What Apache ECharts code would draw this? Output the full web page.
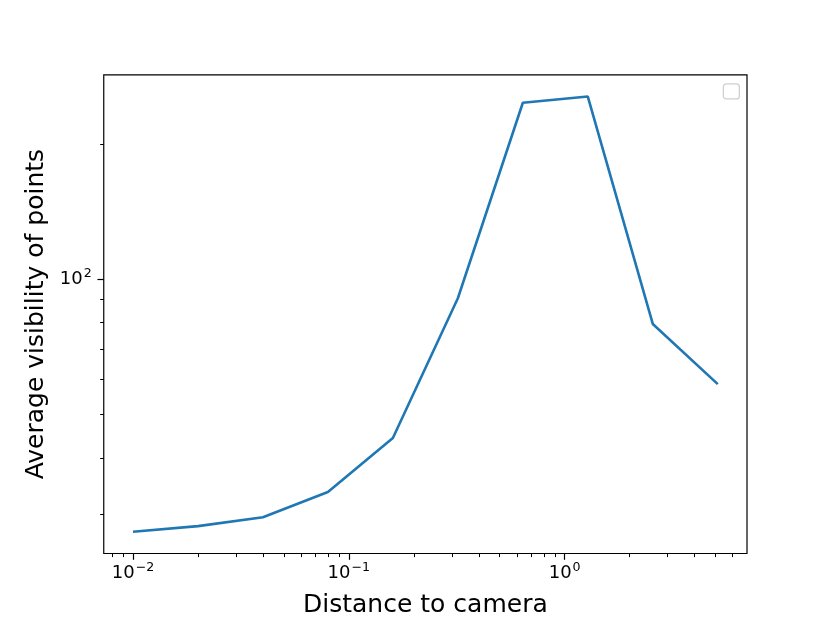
<!DOCTYPE html>
<html lang="en">
<head>
    <meta charset="UTF-8">
    <title>Average visibility of points</title>
    <script type="text/javascript" src="https://cdn.jsdelivr.net/npm/echarts@6/dist/echarts.min.js"></script>
    <style>
        html, body { margin: 0; padding: 0; background: #fff; }
        #main { width: 830px; height: 623px; }
    </style>
</head>
<body>
<div id="main"></div>
<script type="text/javascript">

    // distance to camera (x) and average visibility (y)
    var distances = [0.01, 0.02, 0.04, 0.08, 0.16, 0.32, 0.64, 1.28, 2.56, 5.12];
    var visibility = [27.4, 28.2, 29.5, 33.6, 44.3, 90.7, 247, 255, 79.5, 58.4];

    // tick positions
    var xMajorTicks = [0.01, 0.1, 1];
    var xMinorTicks = [0.008, 0.009,
        0.02, 0.03, 0.04, 0.05, 0.06, 0.07, 0.08, 0.09,
        0.2, 0.3, 0.4, 0.5, 0.6, 0.7, 0.8, 0.9,
        2, 3, 4, 5, 6];
    var yMajorTicks = [100];
    var yMinorTicks = [30, 40, 50, 60, 70, 80, 90, 200];

    // 5% margins in log space, like matplotlib
    function logLimits(arr) {
        let lo = Math.log10(Math.min.apply(null, arr));
        let hi = Math.log10(Math.max.apply(null, arr));
        let m = (hi - lo) * 0.05;
        return [Math.pow(10, lo - m), Math.pow(10, hi + m)];
    }
    var xLim = logLimits(distances);
    var yLim = logLimits(visibility);

    var font = 'DejaVu Sans';

    function powLabel(v) {
        let e = Math.round(Math.log10(v));
        let s = (e < 0 ? '\u2212' : '') + Math.abs(e);
        return '{b|10}{s|' + s + '}';
    }
    var richLabel = {
        b: { fontSize: 18, fontFamily: font, color: '#000' },
        s: { fontSize: 12.6, fontFamily: font, color: '#000', verticalAlign: 'top', padding: [0, 0, 10, 1] }
    };

    var data = [];
    for (let i = 0; i < distances.length; i++) {
        data.push([distances[i], visibility[i]]);
    }

    var myChart = echarts.init(document.getElementById('main'), null, { renderer: 'canvas' });
    var option = {
        animation: false,
        backgroundColor: '#fff',
        grid: {
            left: 103.75,
            right: 83,
            top: 74.8,
            bottom: 68.5,
            show: true,
            borderColor: '#000',
            borderWidth: 1.2,
            backgroundColor: 'transparent'
        },
        xAxis: [{
            type: 'log',
            logBase: 10,
            min: xLim[0],
            max: xLim[1],
            position: 'bottom',
            name: 'Distance to camera',
            nameLocation: 'middle',
            nameGap: 39.5,
            nameTextStyle: { fontFamily: font, fontSize: 25, color: '#000' },
            axisLine: { show: false },
            splitLine: { show: false },
            axisTick: {
                show: true, inside: false, length: 6.3,
                customValues: xMajorTicks,
                lineStyle: { color: '#000', width: 1.2 }
            },
            axisLabel: {
                show: true, margin: 8,
                customValues: xMajorTicks,
                formatter: powLabel,
                rich: richLabel
            }
        }, {
            type: 'log',
            logBase: 10,
            min: xLim[0],
            max: xLim[1],
            position: 'bottom',
            axisLine: { show: false },
            splitLine: { show: false },
            axisLabel: { show: false },
            axisTick: {
                show: true, inside: false, length: 3.6,
                customValues: xMinorTicks,
                lineStyle: { color: '#000', width: 1 }
            }
        }],
        yAxis: [{
            type: 'log',
            logBase: 10,
            min: yLim[0],
            max: yLim[1],
            position: 'left',
            name: 'Average visibility of points',
            nameLocation: 'middle',
            nameGap: 48,
            nameTextStyle: { fontFamily: font, fontSize: 25, color: '#000' },
            axisLine: { show: false },
            splitLine: { show: false },
            axisTick: {
                show: true, inside: false, length: 6.3,
                customValues: yMajorTicks,
                lineStyle: { color: '#000', width: 1.2 }
            },
            axisLabel: {
                show: true, margin: 12,
                customValues: yMajorTicks,
                formatter: powLabel,
                rich: richLabel
            }
        }, {
            type: 'log',
            logBase: 10,
            min: yLim[0],
            max: yLim[1],
            position: 'left',
            axisLine: { show: false },
            splitLine: { show: false },
            axisLabel: { show: false },
            axisTick: {
                show: true, inside: false, length: 3.6,
                customValues: yMinorTicks,
                lineStyle: { color: '#000', width: 1 }
            }
        }],
        series: [{
            type: 'line',
            xAxisIndex: 0,
            yAxisIndex: 0,
            data: data,
            showSymbol: false,
            symbol: 'none',
            lineStyle: { color: '#1f77b4', width: 2.6 },
            itemStyle: { color: '#1f77b4' }
        }],
        // empty legend frame in the top right corner
        graphic: [{
            type: 'rect',
            left: 722.7,
            top: 83.3,
            shape: { width: 16, height: 15, r: 3 },
            style: { fill: '#fff', stroke: '#d0d0d0', lineWidth: 1.3 }
        }]
    };
    myChart.setOption(option);
</script>
</body>
</html>
